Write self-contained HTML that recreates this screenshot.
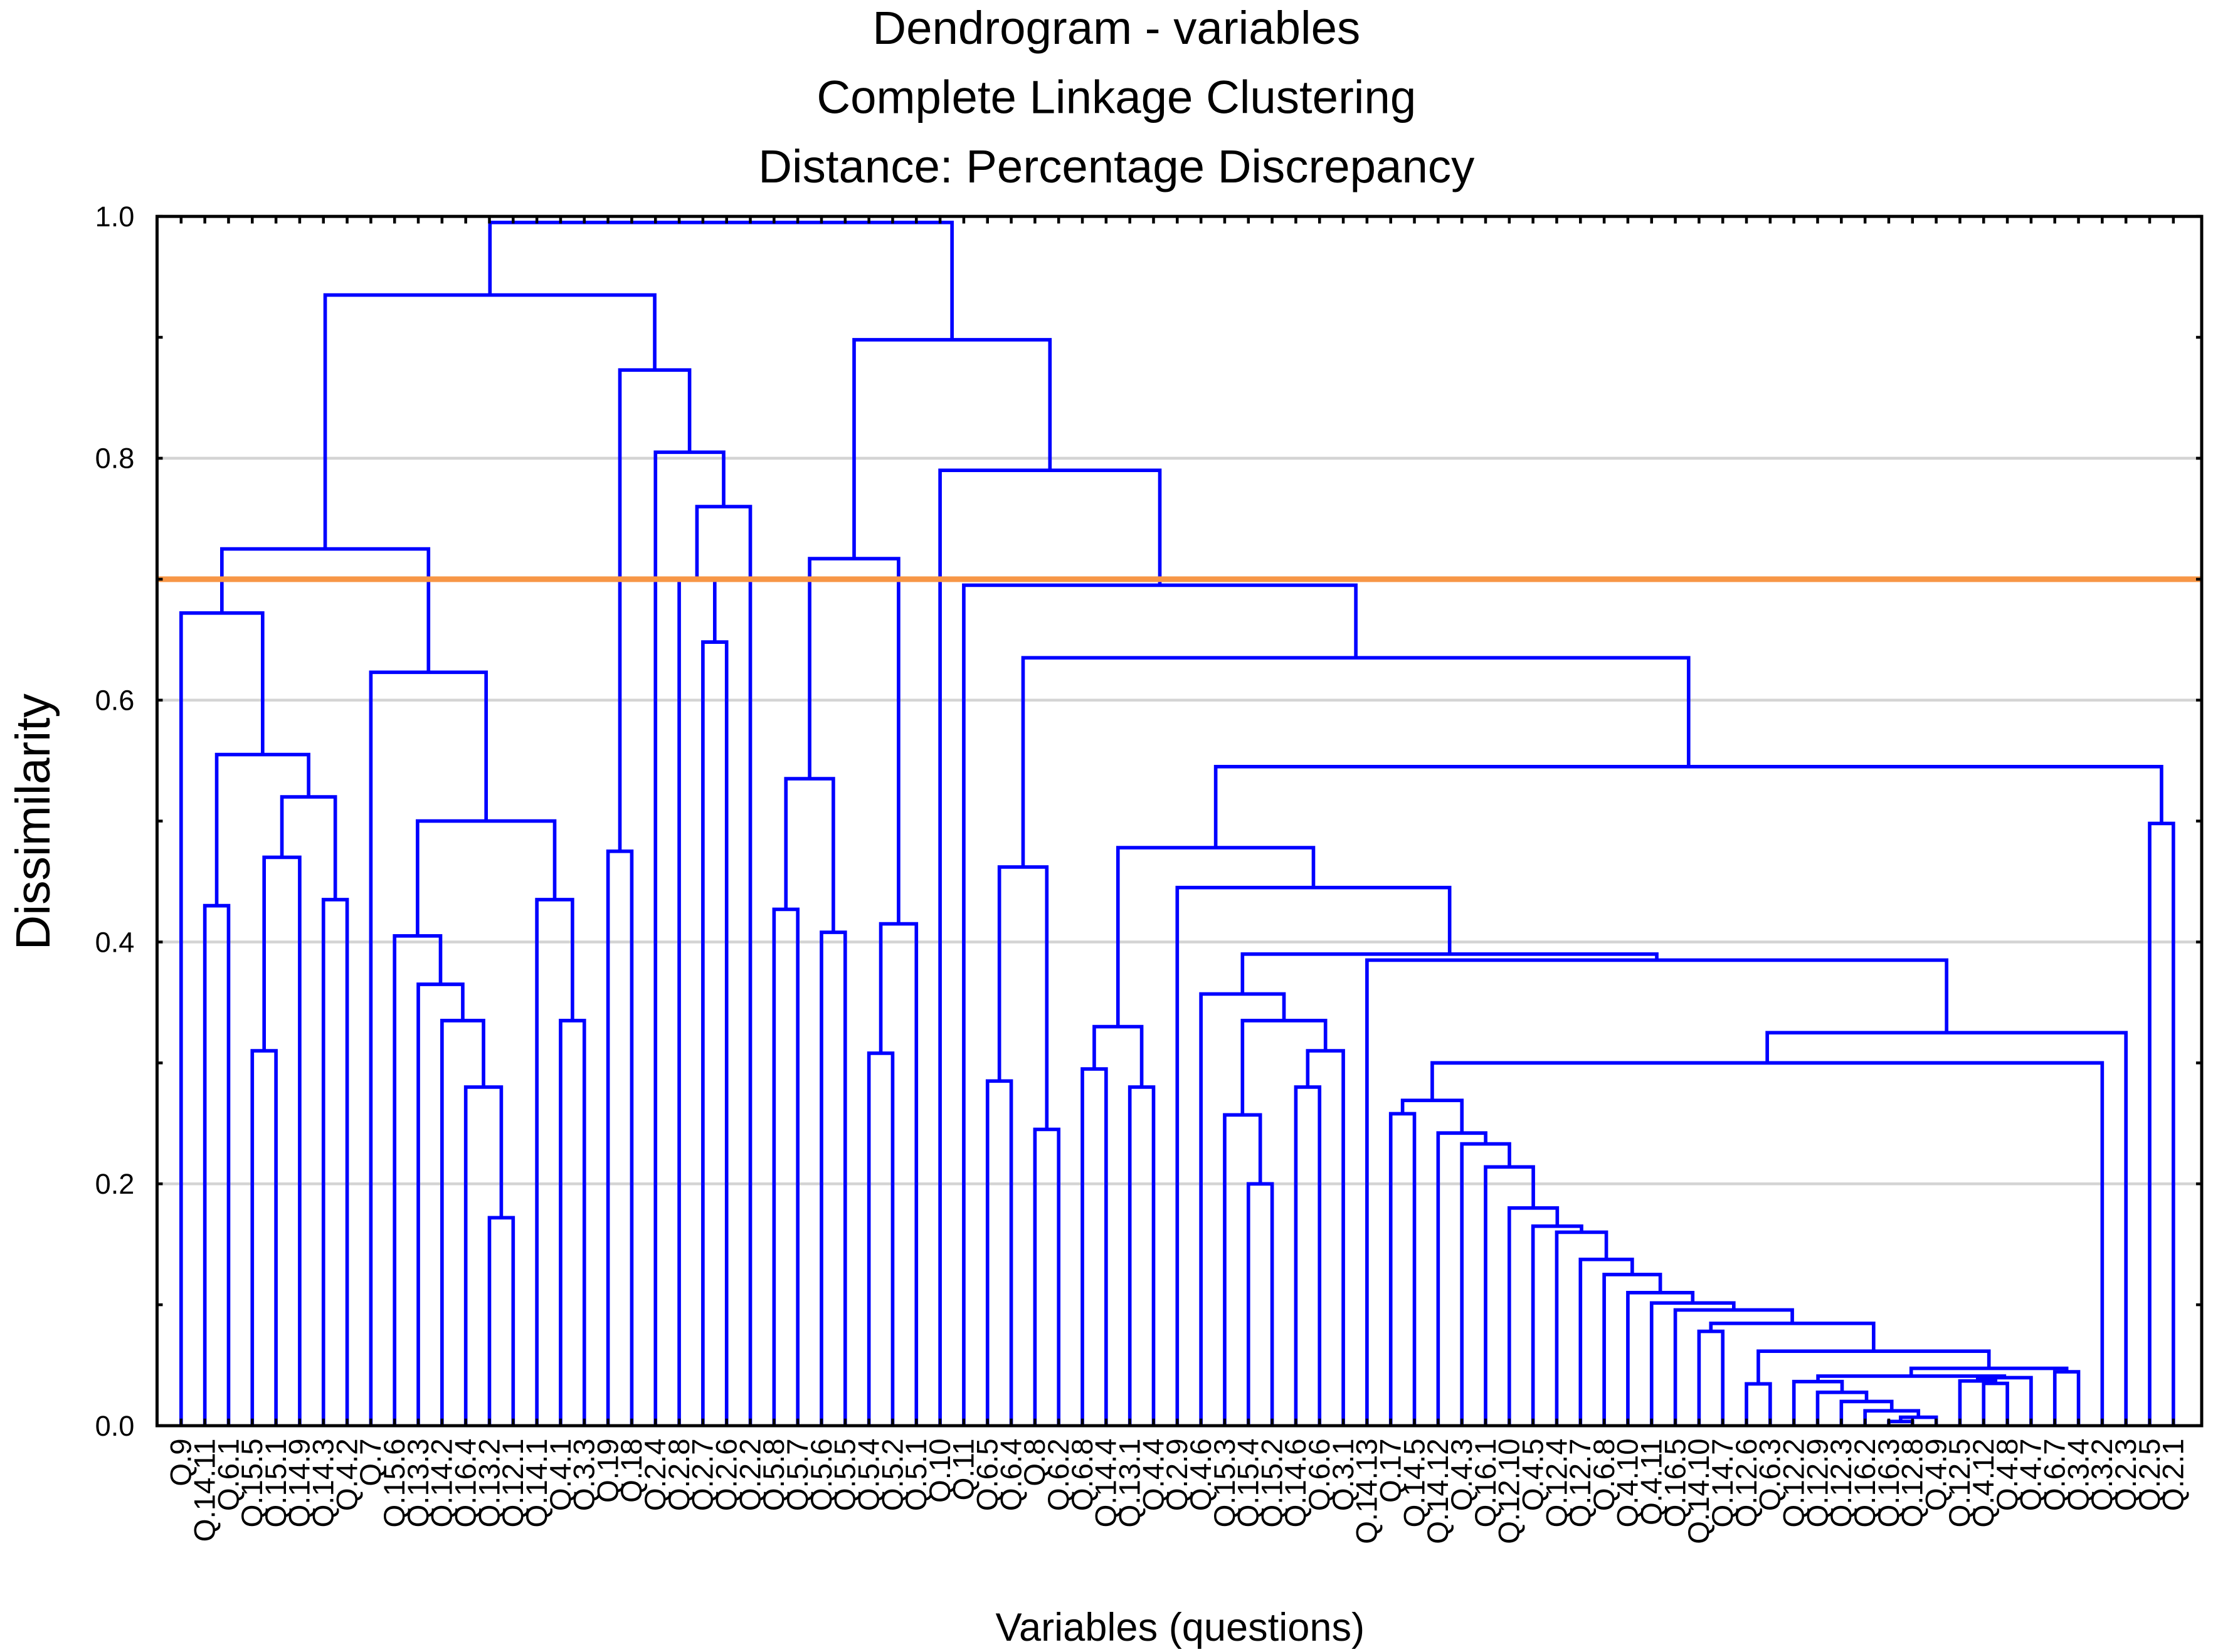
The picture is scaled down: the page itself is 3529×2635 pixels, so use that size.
<!DOCTYPE html>
<html><head><meta charset="utf-8"><style>
html,body{margin:0;padding:0;background:#fff;}
svg{display:block;font-family:"Liberation Sans",Arial,sans-serif;}
</style></head><body>
<svg id="chart" width="3529" height="2635" viewBox="0 0 1564 1168" preserveAspectRatio="none" xmlns="http://www.w3.org/2000/svg">
<rect x="0" y="0" width="1564" height="1168" fill="#fff"/>
<g font-size="33" text-anchor="middle" fill="#000">
<text x="789" y="31">Dendrogram - variables</text>
<text x="789" y="80">Complete Linkage Clustering</text>
<text x="789" y="129">Distance: Percentage Discrepancy</text>
</g>
<text x="35" y="581" font-size="34" text-anchor="middle" transform="rotate(-90 35 581)">Dissimilarity</text>
<text x="834" y="1160" font-size="28" text-anchor="middle">Variables (questions)</text>
<g id="grid"></g>
<g id="links"></g>
<g id="cut"></g>
<g id="axes"></g>
<g id="xlabels"></g>
<g id="ylabels"></g>
</svg>
<script>
const leafLabels = ["Q.9","Q.14.11","Q.6.1","Q.15.5","Q.15.1","Q.14.9","Q.14.3","Q.4.2","Q.7","Q.15.6","Q.13.3","Q.14.2","Q.16.4","Q.13.2","Q.12.1","Q.14.1","Q.4.1","Q.3.3","Q.19","Q.18","Q.2.4","Q.2.8","Q.2.7","Q.2.6","Q.2.2","Q.5.8","Q.5.7","Q.5.6","Q.5.5","Q.5.4","Q.5.2","Q.5.1","Q.10","Q.11","Q.6.5","Q.6.4","Q.8","Q.6.2","Q.6.8","Q.14.4","Q.13.1","Q.4.4","Q.2.9","Q.4.6","Q.15.3","Q.15.4","Q.15.2","Q.14.6","Q.6.6","Q.3.1","Q.14.13","Q.17","Q.14.5","Q.14.12","Q.4.3","Q.16.1","Q.12.10","Q.4.5","Q.12.4","Q.12.7","Q.6.8","Q.4.10","Q.4.11","Q.16.5","Q.14.10","Q.14.7","Q.12.6","Q.6.3","Q.12.2","Q.12.9","Q.12.3","Q.16.2","Q.16.3","Q.12.8","Q.4.9","Q.12.5","Q.4.12","Q.4.8","Q.4.7","Q.6.7","Q.3.4","Q.3.2","Q.2.3","Q.2.5","Q.2.1"];
// merges: [left node, right node, height]; numbers = leaf index, "cN" = Nth merge
const mergeLeft = [1,3,"c1",6,"c2","c0",0,13,12,11,10,9,16,15,"c11",8,"c6",18,22,21,"c19",20,"c17","c16",25,27,"c24",29,"c27","c26",34,36,"c30",38,40,"c33",45,44,47,"c38","c37",43,51,72,"c43",71,70,69,68,76,75,"c50","c48",79,"c52",66,"c55",64,"c57",63,62,61,60,59,58,57,56,55,54,53,"c42","c70","c71",50,"c41",42,"c35",83,"c76","c32",33,32,"c29","c23"];
const mergeRight = [2,4,5,7,"c3","c4","c5",14,"c7","c8","c9","c10",17,"c12","c13","c14","c15",19,23,"c18",24,"c20","c21","c22",26,28,"c25",30,31,"c28",35,37,"c31",39,41,"c34",46,"c36",48,49,"c39","c40",52,73,74,"c44","c45","c46","c47",77,"c49",78,"c51",80,"c53",67,"c54",65,"c56","c58","c59","c60","c61","c62","c63","c64","c65","c66","c67","c68","c69",81,82,"c72","c73","c74","c75",84,"c77","c78","c79","c80","c81","c82"];
const mergeHeight = [0.43,0.31,0.47,0.435,0.52,0.555,0.672,0.172,0.28,0.335,0.365,0.405,0.335,0.435,0.50,0.623,0.725,0.475,0.648,0.70,0.76,0.805,0.873,0.935,0.427,0.408,0.535,0.308,0.415,0.717,0.285,0.245,0.462,0.295,0.28,0.33,0.20,0.257,0.28,0.31,0.335,0.357,0.258,0.0035,0.007,0.0123,0.020,0.0276,0.0365,0.035,0.037,0.0397,0.041,0.0446,0.0474,0.0346,0.0616,0.078,0.0846,0.0957,0.1015,0.11,0.125,0.1375,0.16,0.165,0.18,0.214,0.233,0.242,0.269,0.30,0.325,0.385,0.39,0.445,0.478,0.498,0.545,0.635,0.695,0.79,0.898,0.995];
const yTicks = [0,0.2,0.4,0.6,0.8,1.0];
const yTickLabels = ["0.0","0.2","0.4","0.6","0.8","1.0"];
const cutHeight = 0.70;

const NS="http://www.w3.org/2000/svg";
const PL=111, PR=1556, PT=153, PB=1008;
const X0=128, X1=1536;
function xLeaf(i){return X0+(X1-X0)*i/(leafLabels.length-1);}
function yv(v){return PB-(PB-PT)*v;}
function mk(tag,attrs,parent){const e=document.createElementNS(NS,tag);for(const k in attrs)e.setAttribute(k,attrs[k]);parent.appendChild(e);return e;}

const grid=document.getElementById('grid');
[0.2,0.4,0.6,0.8].forEach(v=>{
  const l=mk('line',{x1:PL,x2:PR,y1:yv(v),y2:yv(v),stroke:'#d4d4d4','stroke-width':2},grid);
  
  
});

const links=document.getElementById('links');
const nodeX={}, nodeH={};
function nx(n){return typeof n==="number"?xLeaf(n):nodeX[n];}
function nh(n){return typeof n==="number"?0:nodeH[n];}
for(let k=0;k<mergeHeight.length;k++){
  const a=mergeLeft[k], b=mergeRight[k], h=mergeHeight[k];
  const xa=nx(a), xb=nx(b);
  const d=`M${xa},${yv(nh(a))}V${yv(h)}H${xb}V${yv(nh(b))}`;
  const p=mk('path',{d:d,fill:'none',stroke:'#0000ff','stroke-width':2.5},links);
  
  
  nodeX['c'+k]=(xa+xb)/2; nodeH['c'+k]=h;
}

const cut=document.getElementById('cut');
const cl=mk('line',{x1:PL,x2:PR,y1:yv(cutHeight),y2:yv(cutHeight),stroke:'#f79646','stroke-width':4},cut);



const axes=document.getElementById('axes');
const fr=mk('rect',{x:PL,y:PT,width:PR-PL,height:PB-PT,fill:'none',stroke:'#000','stroke-width':2.2},axes);


let td='';
for(let i=0;i<leafLabels.length;i++){const x=xLeaf(i);td+=`M${x},${PT}v5M${x},${PB}v-5`;}
for(let v=0;v<=1.0001;v+=0.1){const y=yv(v);td+=`M${PL},${y}h4M${PR},${y}h-4`;}
const tk=mk('path',{d:td,stroke:'#000','stroke-width':2,fill:'none'},axes);



const yl=document.getElementById('ylabels');
yTicks.forEach((v,i)=>{
  const t=mk('text',{x:95,y:yv(v)+7,'font-size':20,'text-anchor':'end'},yl);
  t.textContent=yTickLabels[i];
  
  
});

const xl=document.getElementById('xlabels');
leafLabels.forEach((s,i)=>{
  const x=xLeaf(i)+7, y=1017;
  const t=mk('text',{x:x,y:y,'font-size':21,'text-anchor':'end',transform:`rotate(-90 ${x} ${y})`},xl);
  t.textContent=s;
  
  
});
</script>
</body></html>
